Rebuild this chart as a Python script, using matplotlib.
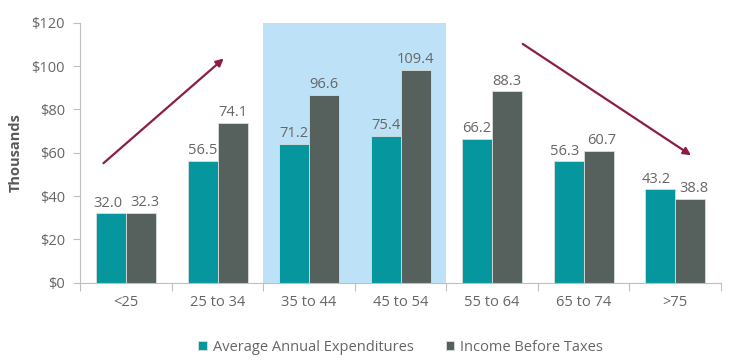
import matplotlib.pyplot as plt
import numpy as np

plt.rcParams['font.family'] = ['Open Sans', 'DejaVu Sans']

# age groups and series
age_groups = ['<25', '25 to 34', '35 to 44', '45 to 54', '55 to 64', '65 to 74', '>75']
# bar heights as drawn in the picture (middle groups are drawn shorter than their labels)
expend_height = [32.0, 56.3, 64.0, 67.7, 66.2, 56.0, 43.1]
income_height = [32.2, 73.8, 86.8, 98.2, 88.3, 60.8, 38.8]
# printed labels
expend_labels = ['32.0', '56.5', '71.2', '75.4', '66.2', '56.3', '43.2']
income_labels = ['32.3', '74.1', '96.6', '109.4', '88.3', '60.7', '38.8']
y_ticks = [0, 20, 40, 60, 80, 100, 120]

teal = '#05979d'
gray = '#56615e'
maroon = '#8c1d45'
txt = '#666666'

fig = plt.figure(figsize=(7.37, 3.64), dpi=100)
ax = fig.add_axes([0.109, 0.2234, 0.869, 0.7143])

x = np.arange(len(age_groups))
w = 0.328

# highlight the peak earning years
ax.axvspan(1.5, 3.5, ymin=0, ymax=1, color='#bde2f8', zorder=0, lw=0)

b1 = ax.bar(x - w / 2, expend_height, w, color=teal, edgecolor='#d9dede', lw=0.6,
            label='Average Annual Expenditures', zorder=2)
b2 = ax.bar(x + w / 2, income_height, w, color=gray, edgecolor='#d9dede', lw=0.6,
            label='Income Before Taxes', zorder=2)

# labels sitting side by side get pushed apart a little
for r1, r2, l1, l2 in zip(b1, b2, expend_labels, income_labels):
    close = abs(r1.get_height() - r2.get_height()) < 8
    dx = 2.5 if close else 0
    ax.annotate(l1, (r1.get_x() + r1.get_width() / 2, r1.get_height()),
                xytext=(-dx, 2), textcoords='offset points', ha='center', va='bottom',
                fontsize=10.5, color=txt)
    ax.annotate(l2, (r2.get_x() + r2.get_width() / 2, r2.get_height()),
                xytext=(dx, 2), textcoords='offset points', ha='center', va='bottom',
                fontsize=10.5, color=txt)

# trend arrows
ax.annotate('', xy=(1.09, 104.3), xytext=(-0.27, 54.3),
            arrowprops=dict(arrowstyle='-|>', color=maroon, lw=1.6, mutation_scale=11))
ax.annotate('', xy=(6.2, 58.1), xytext=(4.31, 110.9),
            arrowprops=dict(arrowstyle='-|>', color=maroon, lw=1.6, mutation_scale=11))

ax.set_xlim(-0.5, 6.5)
ax.set_ylim(0, 120)
ax.set_yticks(y_ticks)
ax.set_yticklabels(['$' + str(v) for v in y_ticks])
ax.set_xticks(np.arange(-0.5, 7, 1))
ax.set_xticklabels([])
ax.set_xticks(x, minor=True)
ax.set_xticklabels(age_groups, minor=True)
ax.tick_params(axis='x', which='minor', length=0, pad=9, labelsize=10.5, labelcolor=txt)
ax.tick_params(axis='x', which='major', length=6, color='#bfbfbf', direction='out')
ax.tick_params(axis='y', length=5, color='#bfbfbf', labelsize=10.5, labelcolor=txt, pad=6)

for s in ['top', 'right']:
    ax.spines[s].set_visible(False)
ax.spines['left'].set_color('#bfbfbf')
ax.spines['bottom'].set_color('#bfbfbf')

ax.set_ylabel('Thousands', fontsize=10.5, fontweight='bold', color='#595959', labelpad=6)

ax.legend(loc='upper center', bbox_to_anchor=(0.5, -0.17), ncol=2, frameon=False,
          fontsize=10.5, labelcolor=txt, handlelength=0.6, handleheight=0.6,
          handletextpad=0.4, columnspacing=2.2)

fig.savefig('out.png', dpi=100)
